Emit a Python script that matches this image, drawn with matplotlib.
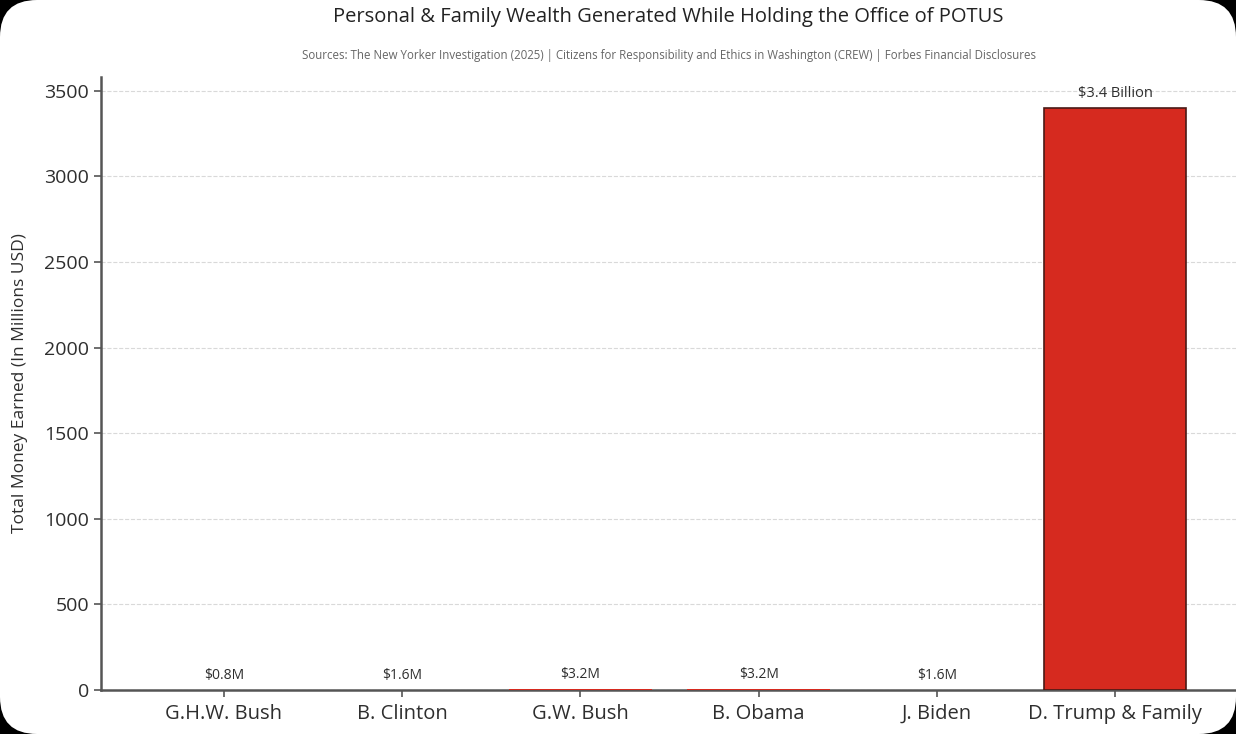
import matplotlib
matplotlib.use("Agg")
import matplotlib.pyplot as plt
from matplotlib.patches import FancyBboxPatch

plt.rcParams['font.family'] = ['Open Sans', 'DejaVu Sans']

presidents = ['G.H.W. Bush', 'B. Clinton', 'G.W. Bush', 'B. Obama', 'J. Biden', 'D. Trump & Family']
earned = [0.8, 1.6, 3.2, 3.2, 1.6, 3400]
value_labels = ['$0.8M', '$1.6M', '$3.2M', '$3.2M', '$1.6M', '$3.4 Billion']
y_ticks = [0, 500, 1000, 1500, 2000, 2500, 3000, 3500]

title = 'Personal & Family Wealth Generated While Holding the Office of POTUS'
sources = ('Sources: The New Yorker Investigation (2025) | Citizens for Responsibility and Ethics '
           'in Washington (CREW) | Forbes Financial Disclosures')

text_col = '#2e2e2e'
spine_col = '#555555'

fig = plt.figure(figsize=(12.36, 7.34), dpi=100, facecolor='black')
# rounded white "screen" behind the chart
card = FancyBboxPatch((0.0, 0.0), 1.0, 1.0, boxstyle='round,pad=0,rounding_size=0.03',
                      transform=fig.transFigure, facecolor='white', edgecolor='none',
                      mutation_aspect=1236 / 734, zorder=-5)
fig.patches.append(card)

ax = fig.add_axes([0.0817, 0.06, 0.92, 0.835])
ax.set_facecolor('white')

# the tiny bars are too small to show an outline in the original
edge_w = [1.2 if v > 100 else 0 for v in earned]
bars = ax.bar(presidents, earned, width=0.8, color='#d62a1f', edgecolor='#4a1a16',
              linewidth=edge_w, zorder=3)
for rect, lab in zip(bars, value_labels):
    ax.annotate(lab, (rect.get_x() + rect.get_width() / 2, rect.get_height()),
                xytext=(0, 5), textcoords='offset points', ha='center', va='bottom',
                fontsize=10.5 if rect.get_height() > 100 else 10, color=text_col)

ax.set_ylim(0, 3580)
ax.set_yticks(y_ticks)
ax.grid(axis='y', linestyle='--', color='#d9d9d9', linewidth=0.8, zorder=0)
ax.set_axisbelow(True)

for side in ['top', 'right']:
    ax.spines[side].set_visible(False)
for side in ['left', 'bottom']:
    ax.spines[side].set_color(spine_col)
    ax.spines[side].set_linewidth(1.8)

ax.tick_params(axis='both', colors=spine_col, labelcolor=text_col, length=5, width=1.2)
ax.tick_params(axis='y', labelsize=14)
ax.tick_params(axis='x', labelsize=14.5, pad=5)
ax.set_ylabel('Total Money Earned (In Millions USD)', fontsize=12.5, color=text_col, labelpad=12)

fig.text(0.541, 0.977, title, ha='center', va='center', fontsize=14.5, color='#222222')
fig.text(0.541, 0.925, sources, ha='center', va='center', fontsize=8.3, color='#666666')

fig.savefig('out.png', dpi=100, facecolor=fig.get_facecolor())
